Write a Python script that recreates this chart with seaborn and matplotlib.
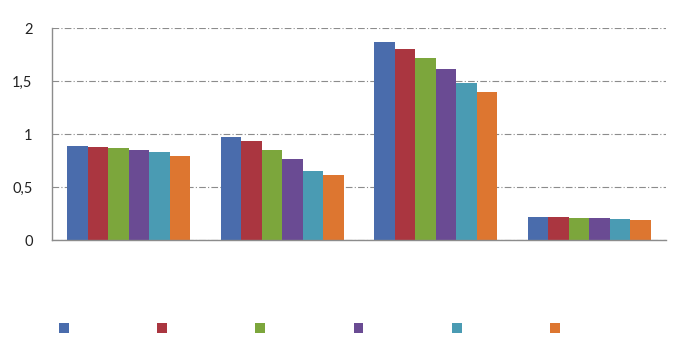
import matplotlib
matplotlib.use("Agg")
import matplotlib.pyplot as plt
import seaborn as sns
import pandas as pd
from matplotlib.patches import Patch

categories = ["G1", "G2", "G3", "G4"]
series = ["S1", "S2", "S3", "S4", "S5", "S6"]
s1 = [0.89, 0.97, 1.87, 0.22]
s2 = [0.88, 0.93, 1.80, 0.22]
s3 = [0.87, 0.85, 1.72, 0.21]
s4 = [0.85, 0.76, 1.61, 0.21]
s5 = [0.83, 0.65, 1.48, 0.20]
s6 = [0.79, 0.61, 1.40, 0.19]
ytick_vals = [0, 0.5, 1, 1.5, 2]
ytick_labels = ["0", "0,5", "1", "1,5", "2"]
colors = ["#4a6cac", "#aa3640", "#7ca63c", "#6a4b93", "#4a9bb3", "#dd7630"]

rows = []
for name, vals in zip(series, [s1, s2, s3, s4, s5, s6]):
    for c, v in zip(categories, vals):
        rows.append({"cat": c, "series": name, "value": v})
df = pd.DataFrame(rows)

sns.set_style("white")
plt.rcParams["font.family"] = ["Lato", "DejaVu Sans"]

fig = plt.figure(figsize=(6.77, 3.59), dpi=100)
ax = fig.add_axes([52/677, 1-240/359, (666-52)/677, (240-28)/359])

sns.barplot(data=df, x="cat", y="value", hue="series", order=categories,
            hue_order=series, palette=colors, saturation=1, width=0.8,
            gap=0, legend=False, ax=ax, linewidth=0)

ax.set_xlim(-0.5, len(categories) - 0.5)
ax.set_ylim(0, 2)
ax.set_yticks(ytick_vals)
ax.set_yticklabels(ytick_labels, fontsize=10.5, color="#222222")
ax.set_xticks([i - 0.5 for i in range(len(categories) + 1)])
ax.set_xticklabels([""] * (len(categories) + 1))
ax.set_xlabel("")
ax.set_ylabel("")

ax.grid(axis="y", linestyle=(0, (6, 2, 1, 2)), color="#8c8c8c", linewidth=0.8)
ax.grid(axis="x", visible=False)
ax.set_axisbelow(True)

for s in ["top", "right"]:
    ax.spines[s].set_visible(False)
for s in ["left", "bottom"]:
    ax.spines[s].set_color("#8c8c8c")
    ax.spines[s].set_linewidth(1.0)
ax.tick_params(axis="both", direction="out", length=5, color="#8c8c8c", width=1)
ax.tick_params(axis="y", pad=9)

handles = [Patch(facecolor=c, edgecolor="none") for c in colors]
fig.legend(handles, [""] * len(series), loc="center left",
           bbox_to_anchor=(59/677, 1-329/359), ncol=6, frameon=False,
           fontsize=10, handlelength=0.7, handleheight=0.7, handletextpad=0,
           columnspacing=6.37, borderpad=0, borderaxespad=0)

fig.savefig("out.png", dpi=100)
